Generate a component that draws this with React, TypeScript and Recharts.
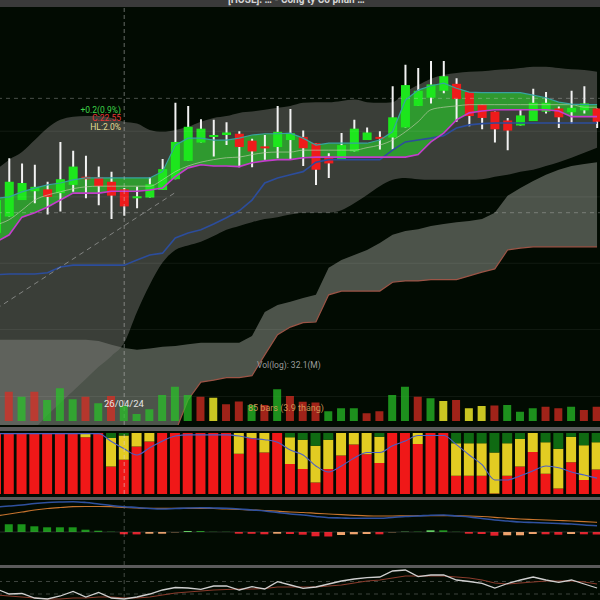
import React from 'react';
import { ComposedChart, Bar, Line, Area, XAxis, YAxis, ReferenceLine, Cell } from 'recharts';

// 48 daily sessions visible (first one is cut at the left edge)
const STEP = 12.78;
const N = 48;
const CHART_W = N * STEP;
const LEFT = -3.5 - STEP / 2;

const open = [22.14, 22.40, 22.66, 22.80, 22.83, 22.77, 22.90, 23.03, 23.02, 22.95, 22.83, 22.71, 22.70, 22.82, 22.99, 23.28, 23.57, 23.67, 23.69, 23.71, 23.60, 23.51, 23.50, 23.61, 23.66, 23.56, 23.35, 23.31, 23.43, 23.61, 23.66, 23.65, 23.81, 24.15, 24.28, 24.39, 24.50, 24.37, 24.17, 24.06, 23.92, 23.84, 23.91, 24.06, 24.11, 24.05, 24.08, 24.11];
const high = [22.74, 23.32, 23.24, 23.22, 22.95, 23.58, 23.44, 23.36, 23.19, 23.11, 22.85, 22.87, 23.02, 23.31, 24.20, 24.15, 23.94, 23.93, 23.89, 23.75, 23.63, 23.69, 24.15, 24.10, 23.76, 23.56, 23.40, 23.72, 23.93, 23.81, 23.75, 24.46, 24.80, 24.75, 24.86, 24.86, 24.59, 24.37, 24.17, 24.06, 23.96, 24.10, 24.42, 24.37, 24.14, 24.39, 24.46, 24.11];
const low = [22.11, 22.40, 22.66, 22.61, 22.43, 22.48, 22.79, 22.69, 22.58, 22.36, 22.41, 22.53, 22.70, 22.82, 22.99, 23.28, 23.57, 23.35, 23.53, 23.18, 23.18, 23.30, 23.32, 23.30, 23.20, 22.90, 23.01, 23.31, 23.43, 23.61, 23.46, 23.46, 23.81, 24.15, 24.19, 24.35, 23.90, 23.83, 23.78, 23.57, 23.45, 23.84, 23.91, 24.03, 23.80, 23.87, 24.03, 23.80];
const close = [22.66, 22.95, 22.93, 22.87, 22.71, 22.99, 23.19, 22.99, 22.88, 22.73, 22.56, 22.72, 22.91, 23.15, 23.58, 23.82, 23.79, 23.69, 23.73, 23.50, 23.43, 23.50, 23.74, 23.72, 23.48, 23.14, 23.24, 23.53, 23.79, 23.73, 23.65, 23.97, 24.48, 24.39, 24.49, 24.62, 24.26, 23.99, 23.96, 23.78, 23.76, 24.00, 24.20, 24.20, 23.97, 24.12, 24.19, 23.90];

// volume in millions (log axis)
const volume = [40, 94.8, 64.6, 94.8, 50.1, 123, 52.9, 64.6, 38.9, 68.1, 32.1, 17.1, 24.5, 73.6, 139, 73.6, 64.6, 59.8, 36.0, 44.7, 34.1, 34.1, 114, 68.1, 44.0, 41.4, 21.0, 26.5, 26.5, 18.1, 21.0, 73.6, 139, 64.6, 57.1, 46.4, 50.1, 26.5, 31.6, 32.9, 34.1, 20.4, 26.5, 30.0, 26.5, 30.0, 23.3, 30.0];
const volType = ['g', 'r', 'g', 'r', 'g', 'g', 'g', 'r', 'g', 'r', 'g', 'g', 'g', 'g', 'g', 'g', 'r', 'y', 'r', 'r', 'g', 'r', 'g', 'r', 'r', 'r', 'g', 'g', 'g', 'r', 'r', 'g', 'g', 'r', 'g', 'y', 'r', 'y', 'y', 'r', 'g', 'g', 'g', 'r', 'r', 'g', 'r', 'r'];

// bands / indicator lines on the price panel
const bbUpper = [23.14, 23.30, 23.42, 23.61, 23.80, 23.93, 23.98, 23.99, 23.99, 23.96, 23.90, 23.87, 23.77, 23.74, 23.77, 23.82, 23.90, 23.96, 23.99, 24.04, 24.06, 24.09, 24.12, 24.15, 24.20, 24.21, 24.21, 24.23, 24.25, 24.21, 24.20, 24.21, 24.37, 24.48, 24.58, 24.64, 24.67, 24.69, 24.70, 24.72, 24.73, 24.75, 24.77, 24.77, 24.75, 24.73, 24.72, 24.69];
const bbLower = [18.55, 18.71, 18.90, 19.05, 19.26, 19.45, 19.64, 19.83, 20.02, 20.19, 20.40, 20.89, 21.32, 21.67, 21.87, 21.94, 22.00, 22.09, 22.19, 22.25, 22.31, 22.36, 22.39, 22.43, 22.46, 22.46, 22.46, 22.50, 22.61, 22.74, 22.88, 22.98, 23.01, 22.99, 22.98, 22.98, 22.98, 22.98, 22.99, 23.03, 23.06, 23.11, 23.14, 23.20, 23.26, 23.33, 23.41, 23.49];
const cloudTop = [20.45, 20.45, 20.45, 20.45, 20.45, 20.45, 20.45, 20.45, 20.43, 20.37, 20.32, 20.29, 20.31, 20.34, 20.35, 20.38, 20.40, 20.40, 20.40, 20.40, 20.51, 20.89, 21.00, 21.05, 21.11, 21.16, 21.59, 21.71, 21.79, 21.87, 21.98, 22.11, 22.17, 22.20, 22.25, 22.28, 22.31, 22.33, 22.36, 22.46, 22.73, 22.85, 22.96, 23.06, 23.14, 23.20, 23.23, 23.26];
const cloudBottom = [18.39, 18.39, 18.39, 18.39, 18.39, 18.39, 18.39, 18.39, 18.39, 18.39, 18.39, 18.39, 18.39, 18.55, 18.99, 19.50, 19.78, 19.81, 19.85, 19.85, 19.88, 20.21, 20.53, 20.65, 20.72, 20.73, 21.16, 21.22, 21.22, 21.22, 21.22, 21.36, 21.38, 21.38, 21.40, 21.40, 21.40, 21.46, 21.52, 21.57, 21.87, 21.90, 21.92, 21.92, 21.92, 21.92, 21.92, 21.92];
const kijun = [22.00, 22.11, 22.39, 22.46, 22.55, 22.66, 22.77, 22.77, 22.77, 22.80, 22.80, 22.80, 22.82, 22.85, 23.03, 23.17, 23.22, 23.20, 23.20, 23.19, 23.25, 23.28, 23.30, 23.30, 23.33, 23.34, 23.34, 23.34, 23.34, 23.34, 23.34, 23.34, 23.34, 23.38, 23.58, 23.72, 23.93, 24.04, 24.07, 24.09, 24.09, 24.09, 24.09, 24.09, 24.07, 23.98, 23.98, 23.98];
const tenkan = [22.69, 22.71, 22.79, 22.85, 22.90, 22.93, 22.98, 23.01, 23.01, 23.01, 23.01, 23.01, 23.01, 23.11, 23.53, 23.64, 23.64, 23.61, 23.61, 23.64, 23.69, 23.71, 23.71, 23.72, 23.64, 23.53, 23.56, 23.56, 23.56, 23.56, 23.61, 23.74, 24.24, 24.40, 24.47, 24.51, 24.43, 24.37, 24.36, 24.36, 24.36, 24.36, 24.32, 24.28, 24.21, 24.18, 24.17, 24.17];
const midLine = [22.27, 22.35, 22.50, 22.66, 22.74, 22.79, 22.84, 22.87, 22.88, 22.88, 22.88, 22.88, 22.88, 22.98, 23.11, 23.20, 23.26, 23.30, 23.33, 23.34, 23.38, 23.41, 23.42, 23.42, 23.45, 23.45, 23.45, 23.45, 23.45, 23.49, 23.53, 23.61, 23.74, 23.90, 24.09, 24.13, 24.15, 24.17, 24.17, 24.17, 24.17, 24.17, 24.17, 24.17, 24.17, 24.17, 24.13, 24.13];
const slowLine = [21.48, 21.49, 21.49, 21.49, 21.51, 21.60, 21.63, 21.63, 21.63, 21.63, 21.63, 21.71, 21.79, 21.82, 22.06, 22.14, 22.19, 22.28, 22.38, 22.49, 22.66, 22.93, 23.01, 23.06, 23.11, 23.26, 23.30, 23.30, 23.30, 23.30, 23.30, 23.45, 23.58, 23.61, 23.64, 23.68, 23.80, 23.85, 23.87, 23.88, 23.88, 23.88, 23.88, 23.88, 23.88, 23.88, 23.88, 23.88];

const gridLevels = [23.75, 22.71, 21.66, 20.61, 19.55];
const dashLevels = [24.27, 22.46];
const trendFrom = { i: 0, p: 20.94 };
const trendTo = { i: 14, p: 22.78 };
const crossIndex = 10;

// 100% stacked panel
const stackRed = [100, 100, 100, 100, 100, 100, 100, 93, 100, 45, 56, 78, 86, 100, 100, 100, 100, 100, 100, 66, 92, 68, 100, 49, 41, 19, 41, 63, 81, 65, 51, 100, 100, 82, 100, 100, 30, 30, 30, 1, 30, 45, 69, 33, 9, 52, 23, 40];
const stackYellow = [0, 0, 0, 0, 0, 0, 0, 7, 0, 47, 40, 22, 14, 0, 0, 0, 0, 0, 0, 34, 8, 32, 0, 44, 48, 60, 48, 37, 19, 35, 43, 0, 0, 18, 0, 0, 53, 53, 53, 67, 53, 45, 31, 52, 65, 42, 57, 45];
const stackGreen = [0, 0, 0, 0, 0, 0, 0, 0, 0, 8, 4, 0, 0, 0, 0, 0, 0, 0, 0, 0, 0, 0, 0, 7, 11, 21, 11, 0, 0, 0, 6, 0, 0, 0, 0, 0, 17, 17, 17, 32, 17, 10, 0, 15, 26, 6, 20, 15];
const stackLine = [99, 99, 99, 99, 99, 99, 99, 99, 99, 86, 74, 64, 76, 87, 95, 97, 97, 97, 97, 95, 91, 89, 85, 72, 64, 46, 36, 46, 59, 68, 68, 79, 87, 96, 96, 96, 81, 64, 48, 23, 23, 30, 38, 46, 43, 36, 31, 26];

// MACD
const macd = [0.25, 0.26, 0.27, 0.285, 0.295, 0.30, 0.303, 0.295, 0.28, 0.265, 0.253, 0.245, 0.235, 0.23, 0.235, 0.24, 0.243, 0.24, 0.237, 0.23, 0.22, 0.21, 0.195, 0.18, 0.17, 0.155, 0.143, 0.14, 0.137, 0.137, 0.137, 0.145, 0.155, 0.16, 0.168, 0.17, 0.16, 0.15, 0.135, 0.12, 0.11, 0.10, 0.095, 0.09, 0.085, 0.08, 0.07, 0.063];
const signal = [0.16, 0.18, 0.20, 0.22, 0.235, 0.245, 0.253, 0.255, 0.255, 0.253, 0.245, 0.24, 0.237, 0.237, 0.237, 0.237, 0.237, 0.235, 0.23, 0.225, 0.22, 0.215, 0.208, 0.20, 0.195, 0.187, 0.18, 0.173, 0.167, 0.162, 0.16, 0.16, 0.162, 0.163, 0.164, 0.164, 0.162, 0.16, 0.155, 0.147, 0.137, 0.13, 0.125, 0.12, 0.115, 0.11, 0.103, 0.097];
const hist = [0.077, 0.077, 0.077, 0.057, 0.047, 0.047, 0.047, 0.023, 0.013, 0.003, -0.023, -0.024, -0.017, -0.017, -0.003, 0.01, 0.01, 0.002, 0.002, -0.017, -0.018, -0.023, -0.017, -0.02, -0.027, -0.043, -0.045, -0.03, -0.023, -0.02, -0.023, -0.003, 0.003, 0.003, 0.017, 0.017, 0.002, -0.017, -0.02, -0.037, -0.033, -0.033, -0.02, -0.023, -0.027, -0.02, -0.023, -0.025];

// RSI
const rsi = [58, 50, 50.8, 43.6, 42, 46.8, 54, 45.2, 52.4, 43.6, 42, 45.2, 50, 56.4, 60.4, 59.6, 57.5, 62.8, 62.8, 56.4, 61.7, 58, 69.7, 64.4, 59.1, 61.2, 66, 70.8, 74, 76.1, 77.2, 86.8, 88.4, 77.7, 80.4, 80.4, 72.4, 70, 67.1, 59.6, 66.8, 72.4, 77.2, 72.4, 68.7, 72.4, 66, 59.6];
const rsiSignal = [48.4, 46.8, 45.2, 43.6, 42, 42, 43.6, 43.6, 45.2, 45.2, 43.6, 43.6, 45.2, 48.4, 51.6, 53.2, 54.8, 56.4, 57.2, 58, 58, 58.8, 61.2, 61.2, 61.2, 61.2, 62.8, 64.4, 67.6, 70.8, 72.4, 75.6, 78.8, 78.8, 78.8, 78.8, 77.2, 75.6, 72.4, 67.6, 66, 67.6, 69.2, 70.8, 70.8, 70.8, 69.2, 66];

const rows = open.map((o, i) => ({
  i,
  o,
  h: high[i],
  l: low[i],
  c: close[i],
  vol: volume[i],
  bbUp: bbUpper[i],
  bbLo: bbLower[i],
  ckTop: cloudTop[i],
  ckBot: cloudBottom[i],
  kijun: kijun[i],
  tenkan: tenkan[i],
  mid: midLine[i],
  slow: slowLine[i],
  sr: stackRed[i],
  sy: stackYellow[i],
  sg: stackGreen[i],
  sl: stackLine[i],
  macd: macd[i],
  signal: signal[i],
  hist: hist[i],
  rsi: rsi[i],
  rsiSig: rsiSignal[i],
}));

const volFill: Record<string, string> = { r: 'rgba(222,44,34,0.72)', g: 'rgba(40,196,40,0.72)', y: 'rgba(236,232,40,0.85)' };

// histogram colour: rising/falling above or below zero
const histColor = (i: number) => {
  const v = hist[i];
  const prev = i > 0 ? hist[i - 1] : v;
  if (v >= 0) return v > prev ? '#5fd35f' : '#1b951b';
  return v < prev ? '#e3202b' : '#f0a36c';
};

const Candle = (props: any) => {
  const { x, y, width, height, payload } = props;
  if (!payload || x == null) return null;
  const top = Math.min(y, y + height);
  const hh = Math.abs(height);
  const k = payload.h > payload.l ? hh / (payload.h - payload.l) : 0;
  const yO = top + (payload.h - payload.o) * k;
  const yC = top + (payload.h - payload.c) * k;
  const bTop = Math.min(yO, yC);
  const bH = Math.max(2, Math.abs(yO - yC));
  const cx = x + width / 2;
  return (
    <g>
      <line x1={cx} x2={cx} y1={top} y2={top + hh} stroke="#f2f2f2" strokeWidth={2} />
      <rect x={x} y={bTop} width={width} height={bH} fill={payload.c >= payload.o ? '#1de61d' : '#ef1b1b'} />
    </g>
  );
};

const margin = { top: 0, right: 0, bottom: 0, left: 0 };
const panel = (top: number, height: number): React.CSSProperties => ({ position: 'absolute', left: LEFT, top, width: CHART_W, height });
const sep = (top: number, height: number): React.CSSProperties => ({ position: 'absolute', left: 0, top, width: 600, height, background: '#5b5b5b' });
const label = (s: React.CSSProperties): React.CSSProperties => ({ position: 'absolute', whiteSpace: 'nowrap', lineHeight: 1, ...s });

export default function App() {
  return (
    <div style={{ position: 'absolute', left: 0, top: 0, width: 600, height: 600, overflow: 'hidden', background: '#020b02', fontFamily: 'Roboto, "DejaVu Sans", sans-serif' }}>
      {/* price panel */}
      <div style={panel(8, 417)}>
        <ComposedChart width={CHART_W} height={417} data={rows} margin={margin}>
          <XAxis dataKey="i" type="category" hide />
          <YAxis domain={[19.1, 25.7]} allowDataOverflow hide />
          {gridLevels.map((v) => (
            <ReferenceLine key={v} y={v} stroke="rgba(255,255,255,0.07)" />
          ))}
          {dashLevels.map((v) => (
            <ReferenceLine key={v} y={v} stroke="rgba(210,210,210,0.35)" strokeDasharray="4 4" />
          ))}
          <Area dataKey={(d: any) => [d.ckBot, d.ckTop]} type="linear" fill="rgb(122,128,120)" fillOpacity={0.62} stroke="none" isAnimationActive={false} />
          <Area dataKey={(d: any) => [d.bbLo, d.bbUp]} type="monotone" fill="rgb(114,114,110)" fillOpacity={0.5} stroke="none" isAnimationActive={false} />
          <Area dataKey={(d: any) => [d.kijun, d.tenkan]} type="linear" fill="#2e9e2e" fillOpacity={0.95} stroke="none" isAnimationActive={false} />
          <Line dataKey="ckBot" type="linear" stroke="#9c5446" strokeWidth={1.2} dot={false} isAnimationActive={false} />
          <Line dataKey="slow" type="linear" stroke="#2c4d9c" strokeWidth={1.6} dot={false} isAnimationActive={false} />
          <Line dataKey="mid" type="monotone" stroke="#b9c9a6" strokeOpacity={0.7} strokeWidth={1} dot={false} isAnimationActive={false} />
          <Line dataKey="tenkan" type="linear" stroke="#36a3a0" strokeWidth={1.2} dot={false} isAnimationActive={false} />
          <Line dataKey="kijun" type="linear" stroke="#c43ccc" strokeWidth={1.6} dot={false} isAnimationActive={false} />
          <ReferenceLine
            segment={[{ x: trendFrom.i, y: trendFrom.p }, { x: trendTo.i, y: trendTo.p }]}
            stroke="rgba(190,190,190,0.55)"
            strokeDasharray="5 4"
          />
          <ReferenceLine x={crossIndex} stroke="rgba(200,200,200,0.5)" strokeDasharray="4 3" />
          <Bar dataKey={(d: any) => [d.l, d.h]} barSize={9} shape={(p: any) => <Candle {...p} />} isAnimationActive={false} />
        </ComposedChart>
      </div>

      {/* volume overlay (log scale) */}
      <div style={panel(361, 60)}>
        <ComposedChart width={CHART_W} height={60} data={rows} margin={margin}>
          <XAxis dataKey="i" type="category" hide />
          <YAxis scale="log" domain={[10, 1000]} allowDataOverflow hide />
          <Bar dataKey="vol" barSize={8} isAnimationActive={false}>
            {rows.map((r) => (
              <Cell key={r.i} fill={volFill[volType[r.i]]} />
            ))}
          </Bar>
        </ComposedChart>
      </div>

      <div style={label({ left: 257, top: 361, fontSize: 8.5, color: '#9d9d9d' })}>Vol(log): 32.1(M)</div>
      <div style={label({ left: 104, top: 399, fontSize: 9.5, color: '#e4e4e4' })}>26/04/24</div>
      <div style={label({ left: 248, top: 404, fontSize: 9, color: 'rgba(222,160,92,0.9)' })}>85 bars (3.9 tháng)</div>

      <div style={label({ left: 40, top: 105.5, width: 81, textAlign: 'right', fontSize: 8.5, color: '#3fd44a' })}>+0.2(0.9%)</div>
      <div style={label({ left: 40, top: 114, width: 81, textAlign: 'right', fontSize: 8.5, color: '#e63535' })}>C:22.55</div>
      <div style={label({ left: 40, top: 122.5, width: 81, textAlign: 'right', fontSize: 8.5, color: '#e2dc94' })}>HL:2.0%</div>

      {/* title bar */}
      <div style={{ position: 'absolute', left: 0, top: 0, width: 600, height: 7, background: '#3a3a3a', overflow: 'hidden' }}>
        <div style={label({ left: 228, top: -5, fontSize: 10, fontWeight: 'bold', color: '#d6d6d6' })}>[HOSE]: … - Công ty Cổ phần …</div>
      </div>

      <div style={sep(427, 4)} />

      {/* 100% stacked panel */}
      <div style={panel(433, 61)}>
        <ComposedChart width={CHART_W} height={61} data={rows} margin={margin}>
          <XAxis dataKey="i" type="category" hide />
          <YAxis domain={[0, 100]} allowDataOverflow hide />
          <Bar dataKey="sr" stackId="s" fill="#f01818" barSize={10} isAnimationActive={false} />
          <Bar dataKey="sy" stackId="s" fill="#e2cc22" barSize={10} isAnimationActive={false} />
          <Bar dataKey="sg" stackId="s" fill="#0f6a12" barSize={10} isAnimationActive={false} />
          <Line dataKey="sl" type="monotone" stroke="#4a5fc8" strokeWidth={1.1} dot={false} isAnimationActive={false} />
          <ReferenceLine x={crossIndex} stroke="rgba(230,200,200,0.6)" strokeDasharray="4 3" />
        </ComposedChart>
      </div>

      <div style={sep(497, 3)} />

      {/* MACD panel */}
      <div style={panel(500, 65)}>
        <ComposedChart width={CHART_W} height={65} data={rows} margin={margin}>
          <XAxis dataKey="i" type="category" hide />
          <YAxis domain={[-0.33, 0.32]} allowDataOverflow hide />
          <ReferenceLine x={crossIndex} stroke="rgba(200,200,200,0.35)" strokeDasharray="4 3" />
          <ReferenceLine y={0} stroke="rgba(150,150,150,0.25)" />
          <Bar dataKey="hist" barSize={8} isAnimationActive={false}>
            {rows.map((r) => (
              <Cell key={r.i} fill={histColor(r.i)} />
            ))}
          </Bar>
          <Line dataKey="signal" type="monotone" stroke="#c7742e" strokeWidth={1.2} dot={false} isAnimationActive={false} />
          <Line dataKey="macd" type="monotone" stroke="#2f519f" strokeWidth={1.6} dot={false} isAnimationActive={false} />
        </ComposedChart>
      </div>

      <div style={sep(565, 3)} />

      {/* RSI panel */}
      <div style={panel(569, 50)}>
        <ComposedChart width={CHART_W} height={50} data={rows} margin={margin}>
          <XAxis dataKey="i" type="number" domain={[-0.5, N - 0.5]} hide />
          <YAxis domain={[10, 90]} allowDataOverflow hide />
          <ReferenceLine y={70} stroke="rgba(200,200,200,0.3)" strokeDasharray="4 4" />
          <ReferenceLine y={50} stroke="rgba(200,200,200,0.3)" strokeDasharray="4 4" />
          <ReferenceLine x={crossIndex} stroke="rgba(200,200,200,0.35)" strokeDasharray="4 3" />
          <Line dataKey="rsiSig" type="linear" stroke="#8a3b2c" strokeWidth={1.1} dot={false} isAnimationActive={false} />
          <Line dataKey="rsi" type="linear" stroke="#cfcfcf" strokeWidth={1.3} dot={false} isAnimationActive={false} />
        </ComposedChart>
      </div>
    </div>
  );
}
